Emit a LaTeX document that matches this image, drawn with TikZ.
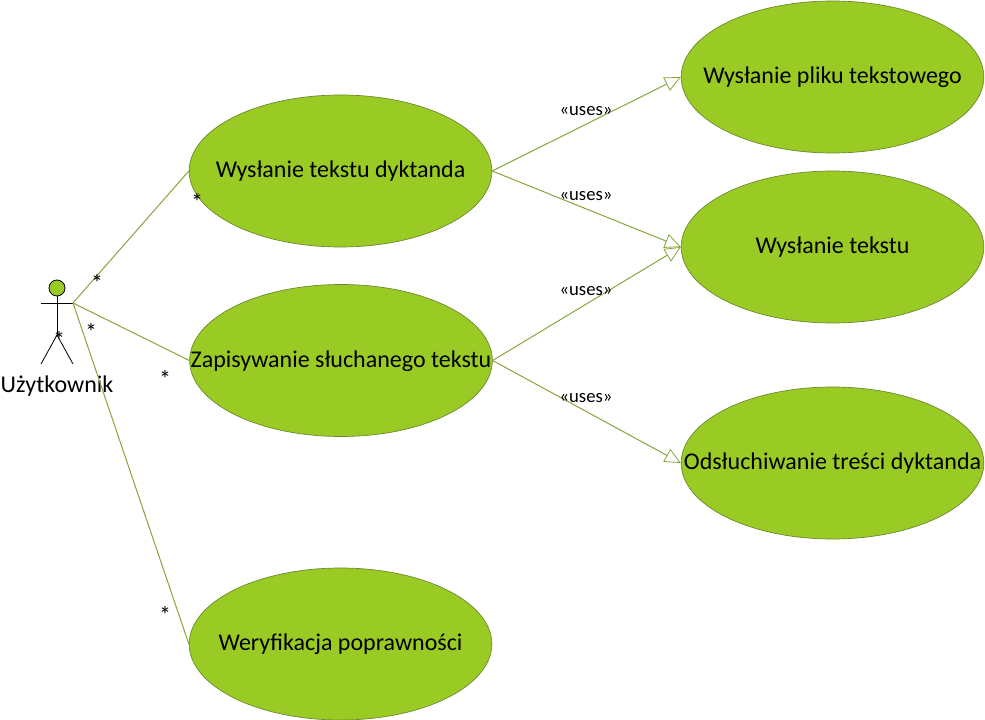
\documentclass[tikz,border=0pt]{standalone}
\usepackage{fontspec}
\setmainfont{Carlito}
\usetikzlibrary{shapes.geometric,arrows.meta}
\definecolor{usecase}{HTML}{9ACB24}
\definecolor{edge}{HTML}{86A63C}
\newcommand{\casetext}[1]{\makebox[0pt]{\raisebox{-5pt}[0pt][0pt]{#1}}}
\tikzset{
    usecase/.style={draw=edge!80!black,line width=0.5pt,fill=usecase,ellipse,inner sep=0pt,
        minimum width=227pt,minimum height=114pt,font=\fontsize{18}{22}\selectfont},
    assoc/.style={draw=edge,line width=0.75pt},
    uses/.style={assoc,-{Triangle[open,length=12pt,width=11pt,line width=0.6pt]}},
    usestext/.style={inner sep=0pt,font=\fontsize{14}{16}\selectfont},
    star/.style={inner sep=0pt,font=\fontsize{18}{20}\selectfont},
    limb/.style={draw=black,line width=0.6pt}
}
\begin{document}
\begin{tikzpicture}[x=0.75pt,y=-0.75pt]
        \useasboundingbox (0,0) rectangle (985,720);
        % draw the use cases
        \node[usecase] (send) at (340.5,171) {\casetext{Wysłanie tekstu dyktanda}};
        \node[usecase] (save) at (341,360.5) {\casetext{Zapisywanie słuchanego tekstu}};
        \node[usecase] (check) at (340.5,644) {\casetext{Weryfikacja poprawności}};
        \node[usecase] (file) at (832.5,77) {\casetext{Wysłanie pliku tekstowego}};
        \node[usecase] (text) at (832.5,247) {\casetext{Wysłanie tekstu}};
        \node[usecase] (listen) at (832.5,463) {\casetext{Odsłuchiwanie treści dyktanda}};
        % draw the actor
        \node[circle,draw=black,line width=0.6pt,fill=usecase,minimum size=12pt,inner sep=0pt] (head) at (57,288) {};
        \coordinate (armL) at (41,303);
        \coordinate (armR) at (73,303);
        \coordinate (hip) at (57,335);
        \coordinate (legL) at (41,364);
        \coordinate (legR) at (73,364);
        \draw[limb] (head) -- (hip);
        \draw[limb] (armL) -- (armR);
        \draw[limb] (legL) -- (hip) -- (legR);
        \node[font=\fontsize{18}{22}\selectfont,inner sep=0pt] (actor) at (57,386) {Użytkownik};
        % draw the associations
        \foreach \target in {send,save,check}
        \draw[assoc] (armR) -- (\target.west);
        % draw the uses arrows
        \draw[uses] (send.east) -- (file.west);
        \draw[uses] (send.east) -- (text.west);
        \draw[uses] (save.east) -- (text.west);
        \draw[uses] (save.east) -- (listen.west);
        % draw nodes to add labels
        \foreach \y/\name in {111/a,196/b,291/c,398/d}
        \node[usestext] (uses\name) at (586,\y) {«uses»};
        \node[star] (star1) at (97,283) {*};
        \node[star] (star2) at (91,332) {*};
        \node[star] (star3) at (59,340) {*};
        \node[star] (star4) at (197,202) {*};
        \node[star] (star5) at (165,379) {*};
        \node[star] (star6) at (165,615) {*};
\end{tikzpicture}
\end{document}
